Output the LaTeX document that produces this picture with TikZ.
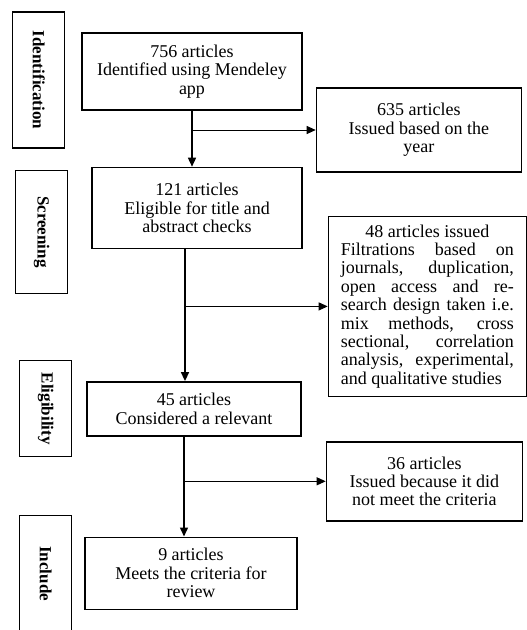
\documentclass[tikz,border=0pt]{standalone}
\usepackage{fontspec}
\setmainfont{Liberation Serif}
\usepackage{graphicx}
\usetikzlibrary{arrows.meta,positioning,calc}
\tikzset{
  node distance=1.2cm,
  box/.style={draw,line width=1.4pt,align=center,inner sep=2pt,
              font=\fontsize{18}{18.4}\selectfont},
  phase/.style={draw,line width=1.2pt,minimum width=52pt,inner sep=1pt,
                font=\fontsize{17}{17}\selectfont\bfseries}
}

\begin{document}
\begin{tikzpicture}[x=1pt,y=1pt]
          \useasboundingbox (0,0) rectangle (527,-630);
          \begin{scope}
              \node[box,minimum width=220pt,minimum height=77pt] (756) at (192,-71.5)
                    {756 articles\\Identified using Mendeley\\app};
              \node[box,minimum width=210pt,minimum height=81pt] (121) [below=56pt of 756,xshift=5pt]
                    {121 articles\\Eligible for title and\\abstract checks};
              \node[box,minimum width=214pt,minimum height=54pt] (45)  [below=132pt of 121,xshift=-3pt]
                    {45 articles\\Considered a relevant};
              \node[box,minimum width=212pt,minimum height=72pt] (9)   [below=100pt of 45,xshift=-3pt]
                    {9 articles\\Meets the criteria for\\review};

              \node[box,minimum width=205pt,minimum height=84pt] (635) [right=13pt of 756,yshift=-58.5pt]
                    {635 articles\\Issued based on the\\year};
              \node[box,minimum width=198pt,minimum height=180pt,
                    text width=173pt,align=justify] (48) [right=25pt of 121,yshift=-98.5pt]
                    {\tolerance=10000{\centering 48 articles issued\par}%
                     \noindent Filtrations based on\linebreak journals, duplication,\linebreak
                     open access and re-\linebreak search design taken i.e.\linebreak
                     mix methods, cross\linebreak sectional, correlation\linebreak
                     analysis, experimental,\linebreak and qualitative studies};
              \node[box,minimum width=196pt,minimum height=79pt] (36)  [right=24pt of 45,yshift=-72.5pt]
                    {36 articles\\Issued because it did\\not meet the criteria};

              \node[phase,minimum height=136pt] (ident)  [left=16pt of 756,yshift=-8.5pt]
                    {\rotatebox{-90}{Identification}};
              \node[phase,minimum height=123pt] (screen) [left=23pt of 121,yshift=-24pt]
                    {\rotatebox{-90}{Screening}};
              \node[phase,minimum height=96pt]  (elig)   [left=14pt of 45]
                    {\rotatebox{-90}{Eligibility}};
              \node[phase,minimum height=117pt] (incl)   [left=12pt of 9,yshift=-0.5pt]
                    {\rotatebox{-90}{Include}};
          \end{scope}

          % trunk and branch points
          \coordinate (t1)  at (756.south |- 121.north);
          \coordinate (b1)  at (756.south |- 635.west);
          \coordinate (t2a) at ([xshift=-12pt]121.south);
          \coordinate (t2b) at (t2a |- 45.north);
          \coordinate (b2)  at (t2a |- 48.west);
          \coordinate (t3a) at ([xshift=-10pt]45.south);
          \coordinate (t3b) at (t3a |- 9.north);
          \coordinate (b3)  at (t3a |- 36.west);

          \begin{scope}[>={Triangle[length=9pt,width=8pt]},
                        every edge/.style={draw=black,line width=1.5pt}]
              \path [->] (756) edge (t1);
              \path [->] (t2a) edge (t2b);
              \path [->] (t3a) edge (t3b);
          \end{scope}

          \begin{scope}[>={Triangle[length=9pt,width=8pt]},
                        every edge/.style={draw=black,line width=1pt}]
              \path [->] (b1) edge (635);
              \path [->] (b2) edge (48);
              \path [->] (b3) edge (36);
          \end{scope}
\end{tikzpicture}
\end{document}
